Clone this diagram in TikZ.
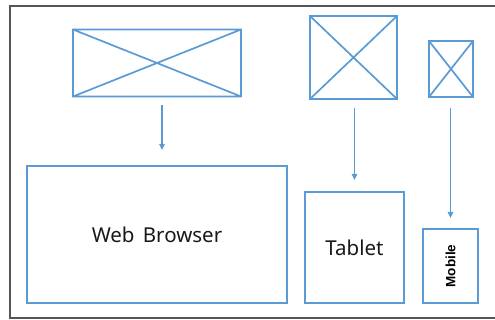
\documentclass[tikz,border=0pt]{standalone}
\usepackage{fontspec}
\setmainfont{Noto Sans}
\newfontfamily\mobfont{Liberation Sans}
\usetikzlibrary{arrows.meta}
\definecolor{ofblue}{HTML}{5B9BD5}
\definecolor{framegray}{HTML}{555555}
\begin{document}
\begin{tikzpicture}[x=1pt,y=-1pt,
  wire/.style={draw=ofblue,line width=1.7pt},
  devbox/.style={draw=ofblue,line width=2.4pt},
  flow/.style={draw=ofblue,line width=1.4pt,-{Triangle[length=6pt,width=5.5pt]}},
  lbl/.style={font=\fontsize{20.5}{24}\selectfont,text=black!90}]
\useasboundingbox (0,0) rectangle (495,320);
\begin{scope}
\clip (0,0) rectangle (495,320);
\draw[framegray,line width=1.2pt] (500,6) -- (10,6) -- (10,318) -- (500,318);
\end{scope}
% wireframe placeholders
\coordinate (w1a) at (73,29.5); \coordinate (w1b) at (241,96.5);
\coordinate (w2a) at (310,16); \coordinate (w2b) at (397,99);
\coordinate (w3a) at (429,41); \coordinate (w3b) at (473,97);
\draw[wire] (w1a) rectangle (w1b) (w1a) -- (w1b) (w1a |- w1b) -- (w1b |- w1a);
\draw[wire] (w2a) rectangle (w2b) (w2a) -- (w2b) (w2a |- w2b) -- (w2b |- w2a);
\draw[wire] (w3a) rectangle (w3b) (w3a) -- (w3b) (w3a |- w3b) -- (w3b |- w3a);
% device boxes
\node[devbox,minimum width=260pt,minimum height=137pt,inner sep=0pt] (web) at (157,234.5) {};
\node[lbl] at (157,235) {Web\hspace{3pt} Browser};
\node[devbox,minimum width=99pt,minimum height=111pt,inner sep=0pt] (tab) at (354.5,247.5) {};
\node[lbl] at (354.5,248) {Tablet};
\node[devbox,minimum width=55pt,minimum height=74pt,inner sep=0pt] (mob) at (450.5,266) {};
\node[rotate=90,font=\mobfont\bfseries\fontsize{13.5}{15}\selectfont] at (450.5,266) {Mobile};
% arrows
\coordinate (s1) at (162,105); \coordinate (e1) at (162,150);
\coordinate (s2) at (354.5,108); \coordinate (e2) at (354.5,180);
\coordinate (s3) at (450.5,108); \coordinate (e3) at (450.5,218);
\draw[flow] (s1) -- (e1);
\draw[flow] (s2) -- (e2);
\draw[flow] (s3) -- (e3);
\end{tikzpicture}
\end{document}
